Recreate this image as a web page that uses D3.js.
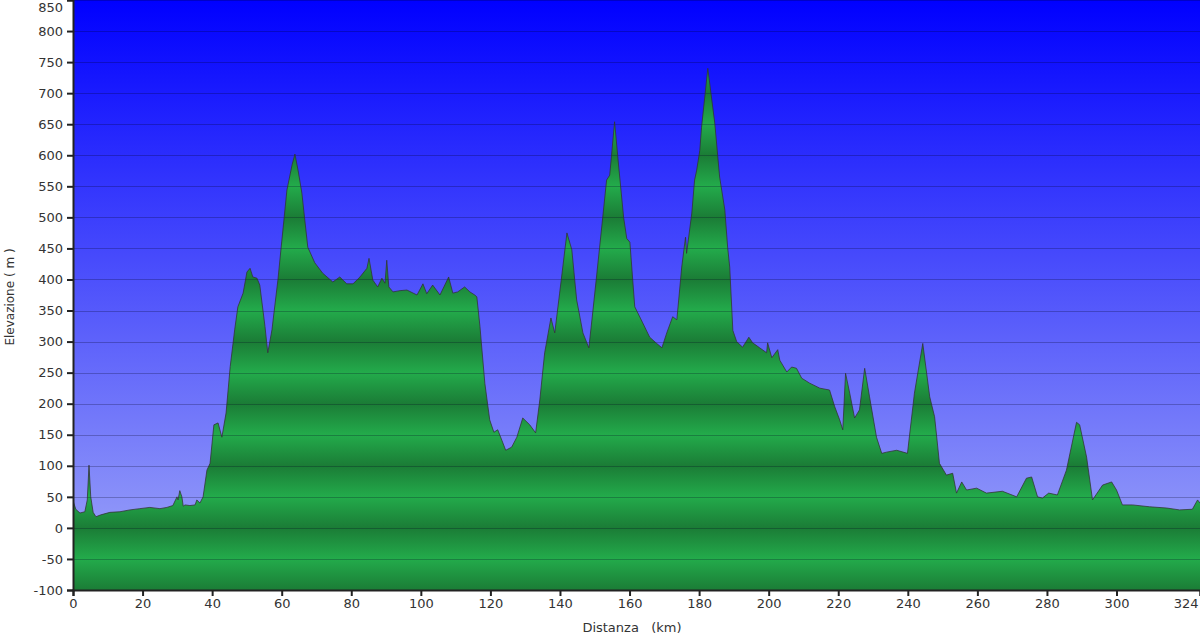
<!DOCTYPE html>
<html><head><meta charset="utf-8">
<script src="https://cdn.jsdelivr.net/npm/d3@7"></script>
<style>
html,body{margin:0;padding:0;background:#fff;}
svg{display:block;}
text{font-family:"DejaVu Sans",Verdana,sans-serif;}
</style></head>
<body>
<svg id="chart" width="1200" height="638"></svg>
<script>
// ---- data ----
const distanceKm = [0,0.8,2.0,3.4,4.1,4.6,5.1,5.8,6.6,8.0,10.6,13.5,16.4,19.2,22.1,25.0,27.0,28.7,29.9,30.2,30.7,31.3,31.7,32.2,33.6,35.1,35.6,36.5,37.4,38.5,39.4,40.5,41.7,42.8,44.0,45.2,46.5,47.4,48.9,50.0,50.9,51.7,52.9,53.7,55.2,56.0,57.2,58.9,61.5,63.0,63.8,64.7,65.8,67.5,69.5,71.8,74.7,76.7,78.7,80.5,82.5,84.5,85.1,86.2,87.6,88.8,89.7,90.2,90.8,92.0,94.0,96.0,98.9,100.6,101.7,103.4,105.5,108.0,109.2,110.6,112.6,114.1,115.5,116.1,117.0,118.4,119.8,121.0,122.1,123.3,124.4,126.1,127.6,129.3,131.3,133.0,134.2,135.6,137.4,138.5,139.9,142.0,143.4,144.8,146.6,148.3,149.4,151.4,153.4,154.3,155.7,156.9,158.3,159.2,160.1,161.5,163.8,165.8,167.8,169.3,170.7,172.4,173.6,175.0,176.1,176.4,177.9,178.7,179.3,180.2,180.7,182.5,184.5,185.9,187.4,188.2,188.8,189.7,190.8,192.5,194.3,195.4,197.4,199.4,199.7,200.9,202.6,203.2,205.2,206.6,208.0,209.5,211.8,214.7,217.5,219.0,220.4,221.3,222.1,223.3,224.7,226.1,227.6,229.0,231.0,232.5,233.9,236.8,239.9,241.9,244.3,246.3,247.7,249.1,251.1,252.9,254.0,255.5,256.9,259.8,262.6,267.2,271.3,274.1,275.6,277.3,278.7,280.5,283.0,285.6,288.5,289.4,291.4,293.1,296.0,298.6,300.0,301.7,304.6,309.5,314.4,318.1,321.8,323.3,324.0];
const elevationM = [44,30,24,26,45,101,50,25,18,21,25,26,29,31,33,31,33,36,50,45,60,50,35,37,36,37,45,40,50,93,104,166,169,146,185,260,320,356,378,412,418,404,402,391,324,282,319,399,544,585,602,576,539,452,427,410,396,404,393,393,404,418,434,399,388,402,394,431,388,380,382,383,375,393,377,391,375,404,378,380,388,380,375,372,324,233,174,154,158,141,125,130,146,177,166,153,206,282,338,314,378,475,448,367,314,290,346,452,560,568,654,581,500,466,460,356,330,307,297,290,314,340,335,420,468,442,507,560,576,608,645,740,652,565,512,452,420,318,300,291,307,298,290,282,298,274,287,270,251,259,257,241,233,225,222,195,174,158,249,217,177,190,257,211,146,120,122,125,120,217,297,211,179,104,85,88,56,74,61,64,56,59,50,80,82,50,48,56,53,93,170,166,114,45,69,74,61,37,37,34,32,29,30,45,40];
const yTicks = [-100,-50,0,50,100,150,200,250,300,350,400,450,500,550,600,650,700,750,800,850];
const xTicks = [0,20,40,60,80,100,120,140,160,180,200,220,240,260,280,300,324];
const xTitle = "Distanza   (km)";
const yTitle = "Elevazione ( m )";

// ---- layout ----
const svg = d3.select("#chart");
const padL = 73, padR = 1200, padT = 0, padB = 590;
const x = d3.scaleLinear().domain([0, 324]).range([padL, padR]);
const y = d3.scaleLinear().domain([-100, 850]).range([padB, padT]);

const defs = svg.append("defs");
const bg = defs.append("linearGradient").attr("id","bg")
  .attr("gradientUnits","userSpaceOnUse").attr("x1",0).attr("x2",0).attr("y1",padT).attr("y2",padB);
bg.append("stop").attr("offset",0).attr("stop-color","#0000ff");
bg.append("stop").attr("offset",1).attr("stop-color","#a2aaf8");

const gf = defs.append("linearGradient").attr("id","gf")
  .attr("gradientUnits","userSpaceOnUse").attr("spreadMethod","repeat")
  .attr("x1",0).attr("x2",0).attr("y1",y(0)).attr("y2",y(-100));
gf.append("stop").attr("offset",0).attr("stop-color","#1b7c36");
gf.append("stop").attr("offset",0.5).attr("stop-color","#23ab4b");
gf.append("stop").attr("offset",1).attr("stop-color","#1b7c36");

defs.append("clipPath").attr("id","clip").append("rect")
  .attr("x",padL).attr("y",padT).attr("width",padR-padL).attr("height",padB-padT);

svg.append("rect").attr("x",padL).attr("y",padT).attr("width",padR-padL).attr("height",padB-padT)
  .attr("fill","url(#bg)");

const n = Math.min(distanceKm.length, elevationM.length);
const data = d3.range(n).map(i=>({d: distanceKm[i], e: elevationM[i]}));
const area = d3.area().x(p=>x(p.d)).y0(y(-100)).y1(p=>y(p.e));
const line = d3.line().x(p=>x(p.d)).y(p=>y(p.e));

const plot = svg.append("g").attr("clip-path","url(#clip)");
plot.append("path").datum(data).attr("d",area).attr("fill","url(#gf)");

// gridlines
plot.append("g").selectAll("line").data(yTicks).join("line")
  .attr("x1",padL).attr("x2",padR).attr("y1",d=>Math.round(y(d))+0.5).attr("y2",d=>Math.round(y(d))+0.5)
  .attr("stroke","rgba(0,0,30,0.25)").attr("stroke-width",1);

plot.append("path").datum(data).attr("d",line).attr("fill","none")
  .attr("stroke","rgba(50,50,50,0.75)").attr("stroke-width",1);

// axes
const fmt = d => String(d);
const yAxis = svg.append("g").attr("transform",`translate(${padL},0)`)
  .call(d3.axisLeft(y).tickValues(yTicks).tickSize(6).tickPadding(4).tickFormat(fmt));
const xAxis = svg.append("g").attr("transform",`translate(0,${padB})`)
  .call(d3.axisBottom(x).tickValues(xTicks).tickSize(6).tickPadding(3).tickFormat(fmt));
[yAxis,xAxis].forEach(a=>{
  a.select(".domain").attr("stroke","#222").attr("stroke-width",2);
  a.selectAll(".tick line").attr("stroke","#222").attr("stroke-width",2);
  a.selectAll("text").attr("fill","#333").style("font-size","13px");
});
xAxis.selectAll(".tick").filter(d=>d===324).select("text").attr("text-anchor","end").attr("dx","-2");
yAxis.selectAll(".tick").filter(d=>d===850).select("text").attr("dy","0.85em");

svg.append("text").attr("x",632).attr("y",632).attr("text-anchor","middle")
  .attr("fill","#333").style("font-size","13px").style("white-space","pre").text(xTitle);
svg.append("text").attr("transform","translate(14,297) rotate(-90)").attr("text-anchor","middle")
  .attr("fill","#333").style("font-size","12px").style("white-space","pre").text(yTitle);
</script>
</body></html>
